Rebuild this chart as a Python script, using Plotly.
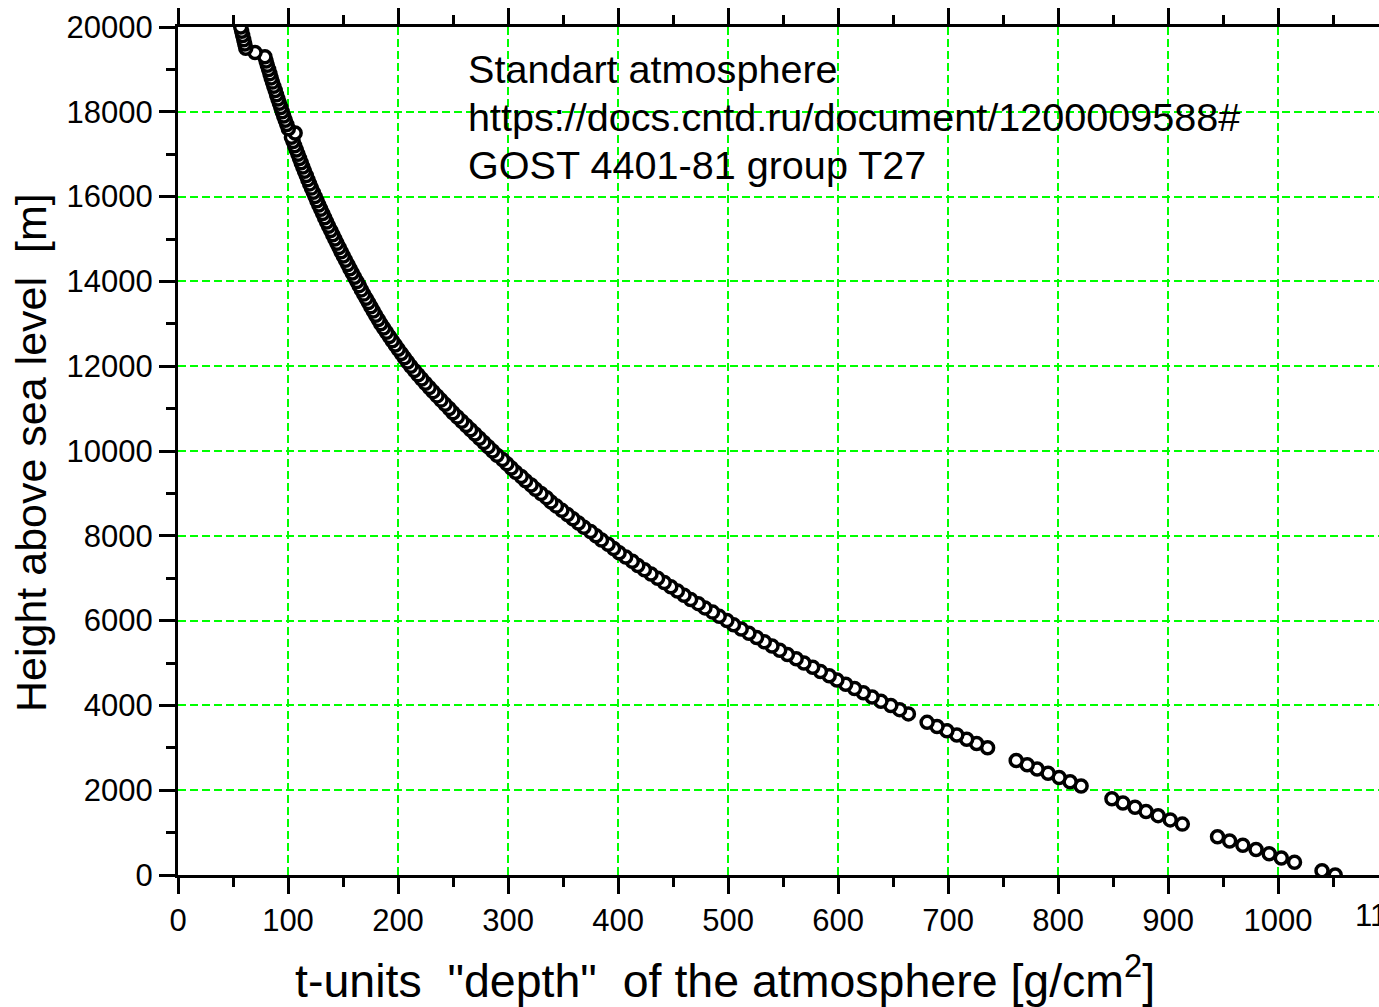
import plotly.graph_objects as go

# Height above sea level [m]
heights = [
    0, 100, 300, 400, 500, 600, 700, 800, 900,
    1200, 1300, 1400, 1500, 1600, 1700, 1800,
    2100, 2200, 2300, 2400, 2500, 2600, 2700,
    3000, 3100, 3200, 3300, 3400, 3500, 3600,
    3800, 3900, 4000, 4100, 4200, 4300, 4400, 4500, 4600, 4700, 4800, 4900,
    5000, 5100, 5200, 5300, 5400, 5500, 5600, 5700, 5800, 5900,
    6000, 6100, 6200, 6300, 6400, 6500, 6600, 6700, 6800, 6900,
    7000, 7100, 7200, 7300, 7400, 7500, 7600, 7700, 7800, 7900,
    8000, 8100, 8200, 8300, 8400, 8500, 8600, 8700, 8800, 8900,
    9000, 9100, 9200, 9300, 9400, 9500, 9600, 9700, 9800, 9900,
    10000, 10100, 10200, 10300, 10400, 10500, 10600, 10700, 10800, 10900,
    11000, 11100, 11200, 11300, 11400, 11500, 11600, 11700, 11800, 11900,
    12000, 12100, 12200, 12300, 12400, 12500, 12600, 12700, 12800, 12900,
    13000, 13100, 13200, 13300, 13400, 13500, 13600, 13700, 13800, 13900,
    14000, 14100, 14200, 14300, 14400, 14500, 14600, 14700, 14800, 14900,
    15000, 15100, 15200, 15300, 15400, 15500, 15600, 15700, 15800, 15900,
    16000, 16100, 16200, 16300, 16400, 16500, 16600, 16700, 16800, 16900,
    17000, 17100, 17200, 17300, 17400, 17500, 17600, 17700, 17800, 17900,
    18000, 18100, 18200, 18300, 18400, 18500, 18600, 18700, 18800, 18900,
    19000, 19100, 19200, 19300, 19400, 19500, 19600, 19700, 19800, 19900,
    20000,
]

# t-units "depth" of the atmosphere [g/cm^2]
depth = [
    1052, 1040, 1015, 1003, 992, 980, 968, 956, 945,
    913, 902, 891, 880, 870, 859, 849,
    821, 811, 801, 791, 781, 772, 762,
    736, 726, 717, 708, 699, 690, 681,
    664, 656, 648, 639, 631, 623, 615, 607, 599, 592, 584, 577,
    569, 562, 554, 547, 540, 533, 526, 519, 512, 505,
    499, 492, 486, 479, 473, 466, 460, 454, 448, 442,
    436, 430, 424, 418, 413, 407, 401, 396, 391, 385,
    380, 375, 369, 364, 359, 354, 349, 344, 339, 335,
    330, 325, 321, 316, 312, 307, 303, 299, 295, 290,
    286, 282, 278, 274, 270, 266, 262, 258, 254, 250,
    246.5, 242.8, 239.1, 235.5, 231.9, 228.4, 224.9, 221.5, 218.2, 214.9,
    211.6, 208.7, 205.8, 203.0, 200.2, 197.5, 194.8, 192.1, 189.5, 186.9,
    184.3, 182.0, 179.7, 177.5, 175.3, 173.1, 171.0, 168.8, 166.7, 164.7,
    162.6, 160.5, 158.4, 156.3, 154.3, 152.3, 150.3, 148.3, 146.4, 144.5,
    142.6, 140.7, 138.8, 136.9, 135.1, 133.3, 131.5, 129.8, 128.0, 126.3,
    124.6, 123.0, 121.3, 119.7, 118.1, 116.6, 115.0, 113.5, 112.0, 110.5,
    109.1, 107.6, 106.1, 104.6, 103.1, 106.5, 100.3, 98.9, 97.5, 96.1,
    94.8, 93.5, 92.2, 90.9, 89.6, 88.4, 87.1, 85.9, 84.7, 83.6,
    82.4, 81.2, 80.1, 79.0, 70.0, 61.6, 60.7, 59.8, 58.8, 57.9,
    57.0,
]

info_lines = [
    "Standart atmosphere",
    "https://docs.cntd.ru/document/1200009588#",
    "GOST 4401-81 group T27",
]
x_title = 't-units\u00a0\u00a0"depth"\u00a0\u00a0of the atmosphere [g/cm<sup>2</sup>]'
y_title = "Height above sea level\u00a0\u00a0[m]"

FONT = "Liberation Sans, Arial, Helvetica, sans-serif"
GRID = "#00ff00"

fig = go.Figure(
    go.Scatter(
        x=depth, y=heights, mode="markers",
        marker=dict(symbol="circle", size=12, color="white",
                    line=dict(color="black", width=3.5)),
        cliponaxis=True, showlegend=False, hoverinfo="x+y",
    )
)

fig.update_layout(
    width=1379, height=1007,
    margin=dict(l=178, r=0, t=27, b=132),
    paper_bgcolor="white", plot_bgcolor="white",
    font=dict(family=FONT, color="black"),
    showlegend=False,
)

common = dict(
    ticks="outside", ticklen=16, tickwidth=3, tickcolor="black",
    showline=True, linewidth=3, linecolor="black", zeroline=False,
    tickfont=dict(size=31, family=FONT, color="black"),
    showgrid=True, gridcolor=GRID, gridwidth=1.5, griddash="8px,4px",
)

fig.update_xaxes(
    range=[0, 1091.8], tickmode="linear", tick0=0, dtick=100,
    mirror="ticks",
    minor=dict(ticks="outside", ticklen=9, tickwidth=3, tickcolor="black",
               tick0=0, dtick=50, showgrid=False),
    **common,
)
fig.update_yaxes(
    range=[0, 20000], tickmode="linear", tick0=0, dtick=2000, tickformat="d",
    mirror=False,
    minor=dict(ticks="outside", ticklen=9, tickwidth=3, tickcolor="black",
               tick0=0, dtick=1000, showgrid=False),
    **common,
)

annotations = []
for i, line in enumerate(info_lines):
    annotations.append(dict(
        text=line, xref="paper", yref="paper",
        x=(466 - 178) / 1201, y=(875 - (69 + 48 * i)) / 848,
        xanchor="left", yanchor="middle", showarrow=False,
        font=dict(size=39.6, family=FONT, color="black"),
    ))
annotations.append(dict(
    text=x_title, xref="paper", yref="paper",
    x=(725 - 178) / 1201, y=-(977 - 875) / 848,
    xanchor="center", yanchor="middle", showarrow=False,
    font=dict(size=46.5, family=FONT, color="black"),
))
annotations.append(dict(
    text=y_title, xref="paper", yref="paper",
    x=-(178 - 31) / 1201, y=(875 - 453) / 848, textangle=-90,
    xanchor="center", yanchor="middle", showarrow=False,
    font=dict(size=43, family=FONT, color="black"),
))
annotations.append(dict(
    text="1100", xref="paper", yref="paper",
    x=1100 / 1091.8, y=-(915 - 875) / 848,
    xanchor="center", yanchor="middle", showarrow=False,
    font=dict(size=31, family=FONT, color="black"),
))
fig.update_layout(annotations=annotations)

fig.write_html("out.html")
